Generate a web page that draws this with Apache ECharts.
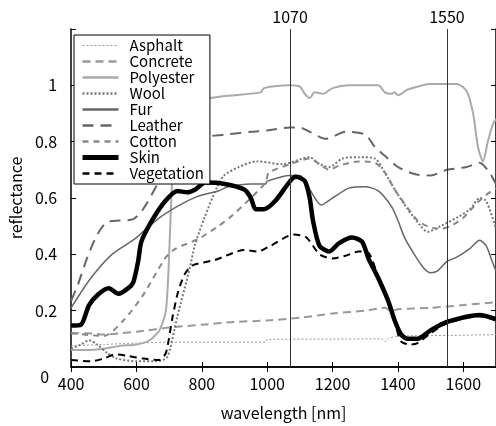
<!DOCTYPE html>
<html><head><meta charset="utf-8">
<script src="https://cdn.jsdelivr.net/npm/echarts@6/dist/echarts.min.js"></script>
<style>html,body{margin:0;padding:0;background:#fff}#c{width:496px;height:426px}</style>
</head><body><div id="c"></div>
<script>
// wavelength [nm], reflectance pairs
const asphalt = [[400,0.075],[500,0.08],[600,0.085],[700,0.088],[800,0.088],[900,0.088],[995,0.088],[1000,0.098],[1200,0.099],[1350,0.1],[1360,0.09],[1370,0.1],[1400,0.11],[1550,0.112],[1700,0.115]];
const concrete = [[400,0.12],[450,0.12],[500,0.115],[550,0.12],[600,0.125],[700,0.14],[800,0.15],[900,0.16],[1000,0.165],[1100,0.175],[1200,0.19],[1300,0.2],[1360,0.21],[1380,0.2],[1400,0.205],[1500,0.21],[1600,0.22],[1700,0.23]];
const polyester = [[400,0.06],[450,0.06],[500,0.065],[550,0.075],[600,0.08],[640,0.095],[670,0.13],[690,0.2],[700,0.4],[710,0.7],[720,0.9],[740,0.94],[800,0.95],[860,0.96],[900,0.965],[980,0.975],[990,0.99],[1070,1.0],[1100,0.995],[1115,0.97],[1130,0.955],[1145,0.975],[1170,0.97],[1200,0.99],[1250,1.0],[1340,1.0],[1360,0.975],[1380,0.97],[1390,0.975],[1400,0.965],[1430,0.985],[1500,1.005],[1580,1.005],[1610,0.98],[1630,0.9],[1645,0.78],[1660,0.73],[1675,0.8],[1690,0.86],[1700,0.88]];
const wool = [[400,0.065],[430,0.08],[455,0.095],[480,0.08],[510,0.05],[540,0.03],[600,0.02],[660,0.02],[694,0.035],[724,0.175],[763,0.35],[778,0.43],[808,0.53],[847,0.64],[868,0.68],[913,0.71],[967,0.73],[1048,0.72],[1129,0.745],[1160,0.72],[1190,0.71],[1230,0.74],[1280,0.745],[1330,0.74],[1360,0.69],[1390,0.63],[1430,0.56],[1470,0.5],[1490,0.48],[1530,0.5],[1580,0.53],[1620,0.56],[1650,0.6],[1670,0.59],[1700,0.49]];
const fur = [[400,0.21],[460,0.315],[525,0.4],[595,0.455],[665,0.525],[725,0.57],[785,0.605],[850,0.625],[880,0.64],[950,0.65],[995,0.65],[1000,0.66],[1070,0.68],[1100,0.68],[1130,0.63],[1165,0.575],[1200,0.6],[1250,0.635],[1300,0.64],[1340,0.625],[1380,0.57],[1400,0.52],[1420,0.46],[1450,0.4],[1480,0.35],[1500,0.335],[1520,0.34],[1550,0.375],[1580,0.39],[1620,0.42],[1650,0.45],[1670,0.43],[1690,0.37],[1700,0.34]];
const leather = [[400,0.235],[420,0.29],[450,0.39],[480,0.47],[510,0.515],[550,0.52],[590,0.525],[620,0.56],[660,0.64],[700,0.72],[750,0.79],[800,0.815],[870,0.825],[950,0.835],[1000,0.84],[1070,0.85],[1100,0.85],[1130,0.835],[1180,0.81],[1240,0.835],[1300,0.825],[1330,0.78],[1360,0.75],[1400,0.71],[1450,0.685],[1500,0.68],[1550,0.7],[1610,0.71],[1650,0.725],[1680,0.69],[1700,0.65]];
const cotton = [[400,0.12],[500,0.11],[560,0.165],[620,0.255],[690,0.39],[720,0.42],[790,0.455],[850,0.5],[890,0.535],[950,0.6],[995,0.655],[1005,0.69],[1070,0.72],[1130,0.74],[1160,0.72],[1190,0.7],[1220,0.715],[1280,0.73],[1330,0.725],[1360,0.69],[1390,0.63],[1420,0.58],[1460,0.52],[1490,0.5],[1530,0.49],[1560,0.5],[1600,0.53],[1640,0.58],[1680,0.62],[1700,0.635]];
const skin = [[400,0.147],[430,0.15],[455,0.22],[485,0.26],[515,0.28],[545,0.26],[575,0.28],[590,0.3],[605,0.375],[615,0.445],[645,0.515],[685,0.585],[725,0.625],[755,0.62],[780,0.63],[810,0.655],[870,0.65],[930,0.63],[950,0.6],[965,0.56],[990,0.56],[1025,0.59],[1070,0.66],[1088,0.675],[1115,0.66],[1130,0.6],[1140,0.52],[1160,0.43],[1190,0.41],[1220,0.44],[1260,0.46],[1290,0.445],[1310,0.385],[1340,0.315],[1370,0.235],[1390,0.165],[1410,0.115],[1430,0.1],[1460,0.1],[1500,0.13],[1550,0.16],[1650,0.185],[1700,0.17]];
const vegetation = [[400,0.025],[460,0.02],[500,0.03],[535,0.045],[570,0.04],[620,0.03],[670,0.025],[690,0.05],[710,0.175],[728,0.27],[748,0.33],[770,0.36],[840,0.38],[930,0.415],[970,0.41],[1010,0.43],[1080,0.47],[1120,0.46],[1160,0.4],[1200,0.385],[1240,0.395],[1280,0.41],[1310,0.405],[1340,0.32],[1370,0.24],[1390,0.16],[1410,0.09],[1440,0.08],[1460,0.085],[1500,0.12],[1550,0.155],[1650,0.18],[1700,0.165]];
const markers = [1070, 1550];
const yTicks = [0, 0.2, 0.4, 0.6, 0.8, 1];

const FONT = 'Noto Sans CJK JP';
const styles = {
  Asphalt:    {data: asphalt,    color:'#999', width:1,   type:[2,2]},
  Concrete:   {data: concrete,   color:'#999', width:2,   type:[8,5]},
  Polyester:  {data: polyester,  color:'#aaa', width:2,   type:'solid'},
  Wool:       {data: wool,       color:'#777', width:2,   type:[2,2]},
  Fur:        {data: fur,        color:'#666', width:1.5, type:'solid'},
  Leather:    {data: leather,    color:'#666', width:2,   type:[11,7]},
  Cotton:     {data: cotton,     color:'#888', width:2,   type:[6,5]},
  Skin:       {data: skin,       color:'#000', width:4.5, type:'solid'},
  Vegetation: {data: vegetation, color:'#000', width:2,   type:[7,5]}
};
const names = Object.keys(styles);
const series = names.map(n => ({
  name: n, type: 'line', data: styles[n].data, showSymbol: false, symbol: 'none',
  smooth: 0.25, animation: false, z: n === 'Skin' ? 3 : 2,
  lineStyle: {color: styles[n].color, width: styles[n].width, type: styles[n].type},
  itemStyle: {color: styles[n].color}
}));
series.push({
  type: 'line', data: [], silent: true, animation: false,
  markLine: {symbol: 'none', silent: true, animation: false,
    lineStyle: {color: '#333', width: 1, type: 'solid'},
    label: {position: 'end', distance: 4, color: '#000', fontSize: 16, fontFamily: FONT, formatter: p => String(p.value)},
    data: markers.map(m => ({xAxis: m}))}
});

const chart = echarts.init(document.getElementById('c'), null, {renderer: 'canvas'});
chart.setOption({
  backgroundColor: '#fff',
  animation: false,
  grid: {left: 64, top: 29, width: 433, height: 341, show: false},
  legend: {
    orient: 'vertical', left: 74, top: 35,
    data: names.map(n => n === 'Skin'
      ? {name: n, lineStyle: {width: 5, color: '#000', type: 'solid'}}
      : {name: n, lineStyle: {width: styles[n].width === 1 ? 1 : 2.5, color: styles[n].color, type: styles[n].type}}),
    backgroundColor: '#fff', borderColor: '#000', borderWidth: 1,
    padding: [3, 6, 3, 6], itemGap: 1, itemWidth: 36, itemHeight: 14,
    itemStyle: {opacity: 0, borderWidth: 0},
    textStyle: {fontFamily: FONT, fontSize: 15, color: '#000', padding: [0, 0, 0, 6], lineHeight: 14},
    selectedMode: false
  },
  xAxis: [{
    type: 'value', min: 400, max: 1700, interval: 200, position: 'bottom',
    name: 'wavelength [nm]', nameLocation: 'middle', nameGap: 38,
    nameTextStyle: {fontFamily: FONT, fontSize: 16, color: '#000'},
    axisLine: {show: true, lineStyle: {color: '#000', width: 1.5}},
    axisTick: {inside: true, length: 5, lineStyle: {color: '#000'}},
    axisLabel: {fontFamily: FONT, fontSize: 16, color: '#000', margin: 9, showMaxLabel: false, formatter: v => String(v)},
    splitLine: {show: false}
  }, {
    type: 'value', min: 400, max: 1700, interval: 200, position: 'top',
    axisLine: {show: true, lineStyle: {color: '#000', width: 1.5}},
    axisTick: {inside: true, length: 5, lineStyle: {color: '#000'}},
    axisLabel: {show: false}, splitLine: {show: false}
  }],
  yAxis: [{
    type: 'value', min: 0, max: 1.2, interval: 0.2, position: 'left',
    name: 'reflectance', nameLocation: 'middle', nameGap: 47,
    nameTextStyle: {fontFamily: FONT, fontSize: 16, color: '#000'},
    axisLine: {show: true, lineStyle: {color: '#000', width: 1.5}},
    axisTick: {inside: true, length: 5, lineStyle: {color: '#000'}},
    axisLabel: {fontFamily: FONT, fontSize: 16, color: '#000', margin: 14,
      formatter: v => {
        const r = Math.round(v * 10) / 10;
        if (!yTicks.some(t => Math.abs(t - r) < 1e-6)) return '';
        return r === 0 ? '{z|0}' : String(r);
      },
      rich: {z: {fontFamily: FONT, fontSize: 16, color: '#000', padding: [20, 8, 0, 0]}}
    },
    splitLine: {show: false}
  }, {
    type: 'value', min: 0, max: 1.2, interval: 0.2, position: 'right',
    axisLine: {show: true, lineStyle: {color: '#000', width: 1.5}},
    axisTick: {inside: true, length: 5, lineStyle: {color: '#000'}},
    axisLabel: {show: false}, splitLine: {show: false}
  }],
  series: series
});
</script></body></html>
